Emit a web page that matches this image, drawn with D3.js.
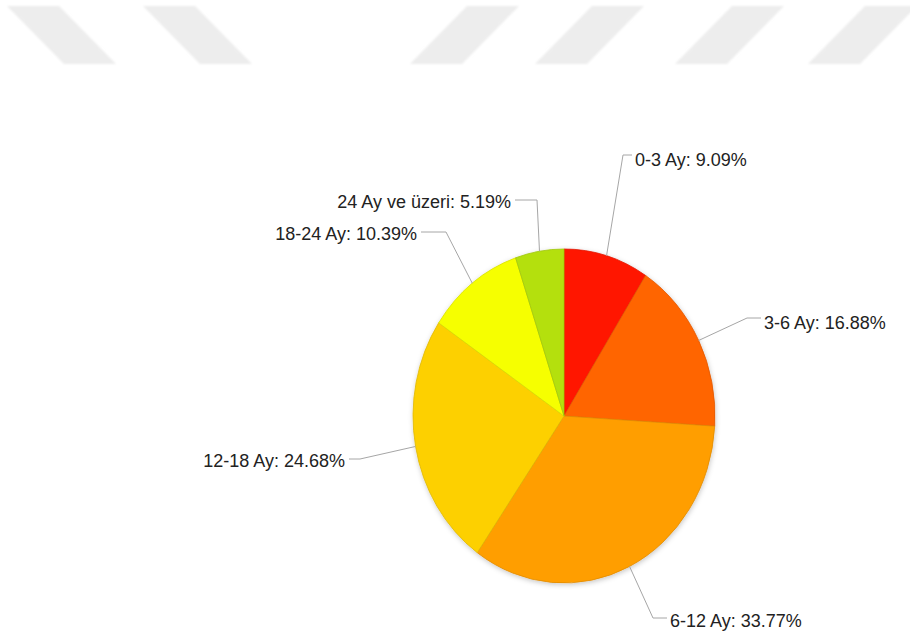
<!DOCTYPE html>
<html>
<head>
<meta charset="utf-8">
<script src="https://cdn.jsdelivr.net/npm/d3@7/dist/d3.min.js"></script>
<style>
  html, body { margin: 0; padding: 0; background: #fff; }
  svg { display: block; }
  text { font-family: "Liberation Sans", Arial, Helvetica, sans-serif; }
</style>
</head>
<body>
<div id="chart"></div>
<script>
// Duration categories and their shares (%)
const categories = ["0-3 Ay", "3-6 Ay", "6-12 Ay", "12-18 Ay", "18-24 Ay", "24 Ay ve üzeri"];
const shares = [9.09, 16.88, 33.77, 24.68, 10.39, 5.19];
const sliceColors = ["#ff1900", "#ff6500", "#ff9e00", "#fdd000", "#f6ff00", "#b4e00c"];

// Label placement: text anchor point (x, baseline) and connector elbow x
const labelLayout = [
  { tx: 635, ty: 166, ex: 623, ly: 155 },
  { tx: 764, ty: 329, ex: 747, ly: 318 },
  { tx: 670, ty: 627, ex: 653, ly: 618 },
  { tx: 345, ty: 467, ex: 360, ly: 459 },
  { tx: 417, ty: 240, ex: 446, ly: 232 },
  { tx: 511, ty: 208, ex: 537, ly: 200 }
];

// Background stripes of the page header
const stripesBack = [7, 143];
const stripesFwd = [467, 592, 732, 865];

const W = 910, H = 636;
const cx = 564, cy = 416, rx = 151, ry = 167;

const svg = d3.select("#chart").append("svg")
  .attr("width", W).attr("height", H);

const defs = svg.append("defs");
const soft = defs.append("filter").attr("id", "soft");
soft.append("feGaussianBlur").attr("stdDeviation", 1.2);

const shadow = defs.append("filter").attr("id", "shadow")
  .attr("x", "-20%").attr("y", "-20%").attr("width", "140%").attr("height", "140%");
shadow.append("feDropShadow")
  .attr("dx", 0.5).attr("dy", 1.5).attr("stdDeviation", 2.5)
  .attr("flood-color", "#000").attr("flood-opacity", 0.22);

// Header stripes
const sTop = 6, sBot = 64, sW = 52, sShift = 57;
const stripeG = svg.append("g").attr("filter", "url(#soft)").attr("fill", "#ededed");
stripesBack.forEach(x => {
  stripeG.append("polygon").attr("points",
    [[x, sTop], [x + sW, sTop], [x + sW + sShift, sBot], [x + sShift, sBot]].join(" "));
});
stripesFwd.forEach(x => {
  stripeG.append("polygon").attr("points",
    [[x, sTop], [x + sW, sTop], [x + sW - sShift, sBot], [x - sShift, sBot]].join(" "));
});

// Pie
const data = categories.map((c, i) => ({ name: c, value: shares[i], color: sliceColors[i] }));
const pie = d3.pie().sort(null).value(d => d.value).startAngle(0).endAngle(2 * Math.PI);
const arcs = pie(data);
const arc = d3.arc().innerRadius(0).outerRadius(rx);

const pieG = svg.append("g")
  .attr("filter", "url(#shadow)")
  .attr("transform", `translate(${cx},${cy}) scale(1,${ry / rx})`);

pieG.selectAll("path.slice")
  .data(arcs)
  .join("path")
  .attr("class", "slice")
  .attr("d", arc)
  .attr("fill", d => d.data.color)
  .attr("stroke", d => d3.color(d.data.color).darker(0.35))
  .attr("stroke-width", 0.8)
  .attr("stroke-linejoin", "round")
  .attr("vector-effect", "non-scaling-stroke");

// Connectors and labels
const labelG = svg.append("g");
arcs.forEach((a, i) => {
  const mid = (a.startAngle + a.endAngle) / 2;
  const sx = cx + rx * Math.sin(mid);
  const sy = cy - ry * Math.cos(mid);
  const L = labelLayout[i];
  const right = L.tx > cx;
  const endX = right ? L.tx - 3 : L.tx + 4;
  labelG.append("path")
    .attr("d", d3.line()([[sx, sy], [L.ex, L.ly], [endX, L.ly]]))
    .attr("fill", "none")
    .attr("stroke", "#a6a6a6")
    .attr("stroke-width", 1);
  labelG.append("text")
    .attr("x", L.tx).attr("y", L.ty)
    .attr("text-anchor", right ? "start" : "end")
    .attr("font-size", 18)
    .attr("fill", "#222")
    .text(`${a.data.name}: ${a.data.value.toFixed(2)}%`);
});
</script>
</body>
</html>
